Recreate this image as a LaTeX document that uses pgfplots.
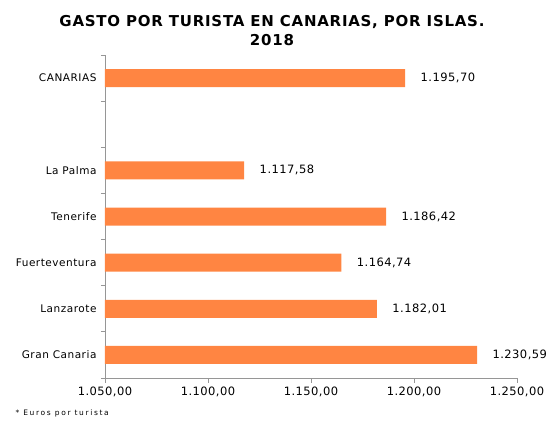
\documentclass[border=0pt]{standalone}
\usepackage{fontspec}
\setmainfont{DejaVu Sans}
\newfontfamily\titlefont[LetterSpace=5]{DejaVu Sans}
\newfontfamily\labfont[LetterSpace=5]{DejaVu Sans}
\newfontfamily\numfont[LetterSpace=4]{DejaVu Sans}
\newfontfamily\notefont[LetterSpace=22]{DejaVu Sans}
\usepackage{pgfplots}
\pgfplotsset{compat=1.18}
\definecolor{barorange}{RGB}{255,133,66}
\definecolor{axisgray}{RGB}{150,150,150}
\pgfkeys{/pgf/number format/.cd, fixed, fixed zerofill, precision=2, use comma, 1000 sep={.}, assume math mode=true}

\begin{document}
\begin{tikzpicture}[x=1pt,y=1pt]
\useasboundingbox (0,0) rectangle (550,421);
\node[font=\titlefont\bfseries\fontsize{15}{19}\selectfont, align=center] at (272,390)
  {GASTO POR TURISTA EN CANARIAS, POR ISLAS.\\2018};
\node[anchor=west, font=\notefont\fontsize{7.5}{8}\selectfont] at (12,8) {* Euros por turista};
\begin{axis}[
  at={(105pt,43pt)}, anchor=south west,
  scale only axis,
  width=412pt, height=323pt,
  xbar, bar width=18pt,
  xmin=1050, xmax=1250,
  ymin=-0.5, ymax=6.5,
  xtick={1050,1100,1150,1200,1250},
  ytick={0,1,2,3,4,5,6},
  yticklabels={Gran Canaria,Lanzarote,Fuerteventura,Tenerife,La Palma,,CANARIAS},
  minor ytick={-0.5,0.5,1.5,2.5,3.5,4.5,5.5,6.5},
  axis x line*=bottom, axis y line*=left,
  axis line style={axisgray, line width=0.8pt},
  tick align=outside,
  major tick length=5pt, minor tick length=4pt,
  major y tick style={draw=none},
  minor y tick style={draw=axisgray, line width=0.8pt},
  xtick style={axisgray, line width=0.8pt},
  x tick label style={font=\numfont\fontsize{11.5}{13}\selectfont},
  y tick label style={font=\labfont\fontsize{10.5}{12}\selectfont},
  nodes near coords,
  nodes near coords style={font=\numfont\fontsize{11.5}{13}\selectfont, black, anchor=west, xshift=12pt},
]
\addplot[fill=barorange, draw=none] coordinates {
  (1230.59,0) (1182.01,1) (1164.74,2) (1186.42,3) (1117.58,4) (1195.70,6)};
\end{axis}
\end{tikzpicture}
\end{document}
